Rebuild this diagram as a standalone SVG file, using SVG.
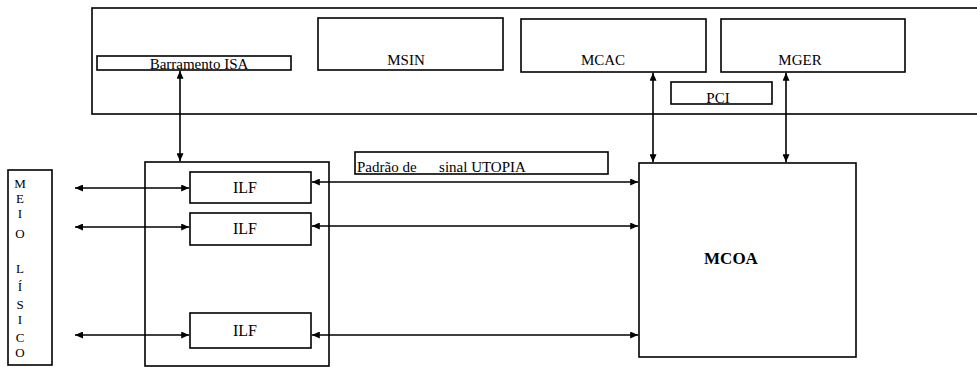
<svg xmlns="http://www.w3.org/2000/svg" width="977" height="367" viewBox="0 0 977 367">
<defs>
<style>
.box{fill:#fff;stroke:#000;stroke-width:1.6}
.t{font-size:15px;fill:#000;text-anchor:middle}
.tl{font-size:15px;fill:#000}
.m{font-size:13px;fill:#000;text-anchor:middle}
.c{stroke:#000;stroke-width:1.6;fill:none;marker-start:url(#ah);marker-end:url(#ah)}
</style>
<marker id="ah" viewBox="0 0 10 10" refX="10" refY="5" markerWidth="8" markerHeight="7" markerUnits="userSpaceOnUse" orient="auto-start-reverse" preserveAspectRatio="none">
<path d="M0,0 L10,5 L0,10 z" fill="#000"/>
</marker>
</defs>
<rect width="977" height="367" fill="#fff"/>
<g font-family="'Liberation Serif', 'DejaVu Serif', 'Times New Roman', serif">
<g id="placa">
<rect class="box" x="92" y="8" width="895" height="106"/>
</g>
<g id="barramento-isa">
<rect class="box" x="97" y="56" width="194" height="14"/>
<text class="t" x="199" y="69">Barramento ISA</text>
</g>
<g id="msin">
<rect class="box" x="318" y="18" width="185" height="52"/>
<text class="t" x="406" y="65">MSIN</text>
</g>
<g id="mcac">
<rect class="box" x="521" y="19" width="185" height="53"/>
<text class="t" x="603" y="65">MCAC</text>
</g>
<g id="mger">
<rect class="box" x="721" y="19" width="184" height="53"/>
<text class="t" x="800" y="65">MGER</text>
</g>
<g id="pci">
<rect class="box" x="671" y="82" width="101" height="22"/>
<text class="t" x="718" y="103">PCI</text>
</g>
<g id="meio-fisico">
<rect class="box" x="8" y="170" width="44" height="195"/>
<text class="m" x="20" y="188">M</text>
<text class="m" x="20" y="203">E</text>
<text class="m" x="20" y="218">I</text>
<text class="m" x="20" y="238">O</text>
<text class="m" x="20" y="273">L</text>
<text class="m" x="20" y="291">Í</text>
<text class="m" x="20" y="309">S</text>
<text class="m" x="20" y="324">I</text>
<text class="m" x="20" y="342">C</text>
<text class="m" x="20" y="357">O</text>
</g>
<g id="interface">
<rect class="box" x="145" y="162" width="184" height="204"/>
</g>
<g id="ilf1">
<rect class="box" x="190" y="172" width="121" height="31"/>
<text class="t" x="245" y="193" style="font-size:16px">ILF</text>
</g>
<g id="ilf2">
<rect class="box" x="190" y="213" width="121" height="32"/>
<text class="t" x="245" y="234" style="font-size:16px">ILF</text>
</g>
<g id="ilf3">
<rect class="box" x="190" y="313" width="121" height="35"/>
<text class="t" x="245" y="336" style="font-size:16px">ILF</text>
</g>
<g id="utopia">
<rect class="box" x="355" y="152" width="253" height="22"/>
<text class="tl" x="357" y="172" xml:space="preserve">Padrão de      sinal UTOPIA</text>
</g>
<g id="mcoa">
<rect class="box" x="639" y="163" width="217" height="194"/>
<text class="t" x="731" y="264" style="font-weight:bold;font-size:17px">MCOA</text>
</g>
</g>
<g id="connectors">
<line class="c" x1="180" y1="70.8" x2="180" y2="161.2"/>
<line class="c" x1="653" y1="72.8" x2="653" y2="162.2"/>
<line class="c" x1="786" y1="72.8" x2="786" y2="162.2"/>
<line class="c" x1="75" y1="188" x2="189.2" y2="188"/>
<line class="c" x1="75" y1="227" x2="189.2" y2="227"/>
<line class="c" x1="75" y1="335" x2="189.2" y2="335"/>
<line class="c" x1="311.8" y1="182" x2="638.2" y2="182"/>
<line class="c" x1="311.8" y1="226" x2="638.2" y2="226"/>
<line class="c" x1="311.8" y1="335" x2="638.2" y2="335"/>
</g>
</svg>
